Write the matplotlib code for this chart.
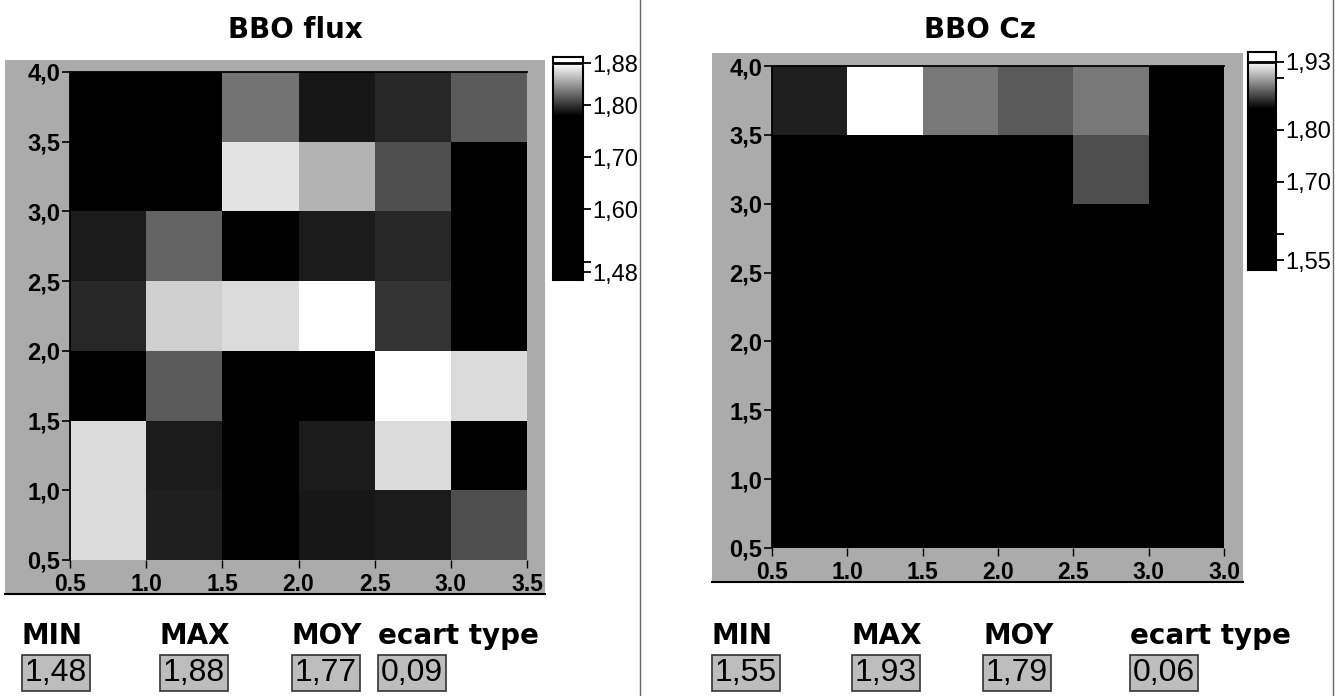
import numpy as np
import matplotlib
matplotlib.use("Agg")
import matplotlib.pyplot as plt
from matplotlib.colors import LinearSegmentedColormap, Normalize
from matplotlib.patches import Rectangle
from matplotlib.lines import Line2D

W, H = 1335, 696

# ---------------- data ----------------
x_edges = [0.5, 1.0, 1.5, 2.0, 2.5, 3.0, 3.5]
y_edges = [0.5, 1.0, 1.5, 2.0, 2.5, 3.0, 3.5, 4.0]
y_ticks = [0.5, 1.0, 1.5, 2.0, 2.5, 3.0, 3.5, 4.0]
y_ticklabels = ["0,5", "1,0", "1,5", "2,0", "2,5", "3,0", "3,5", "4,0"]
x_ticks = [0.5, 1.0, 1.5, 2.0, 2.5, 3.0, 3.5]
flux_xticklabels = ["0.5", "1.0", "1.5", "2.0", "2.5", "3.0", "3.5"]
cz_xticklabels = ["0.5", "1.0", "1.5", "2.0", "2.5", "3.0", "3.0"]

# rows from bottom (y=0.75) to top (y=3.75), columns x=0.75 .. 3.25
flux = [
    [1.865, 1.792, 1.640, 1.788, 1.790, 1.810],
    [1.865, 1.790, 1.680, 1.790, 1.865, 1.720],
    [1.650, 1.815, 1.480, 1.690, 1.880, 1.865],
    [1.795, 1.860, 1.865, 1.880, 1.800, 1.700],
    [1.790, 1.818, 1.720, 1.790, 1.795, 1.660],
    [1.640, 1.680, 1.868, 1.850, 1.810, 1.620],
    [1.700, 1.660, 1.825, 1.788, 1.795, 1.815],
]
cz = [
    [1.77, 1.76, 1.79, 1.80, 1.78, 1.77],
    [1.78, 1.77, 1.76, 1.78, 1.79, 1.76],
    [1.76, 1.78, 1.77, 1.76, 1.77, 1.78],
    [1.77, 1.76, 1.78, 1.77, 1.76, 1.77],
    [1.78, 1.77, 1.76, 1.78, 1.77, 1.55],
    [1.79, 1.78, 1.80, 1.79, 1.867, 1.77],
    [1.851, 1.93, 1.882, 1.872, 1.882, 1.78],
]

flux_range = (1.48, 1.88)
cz_range = (1.55, 1.93)
flux_cbar_ticks = [1.48, 1.60, 1.70, 1.80, 1.88]
flux_cbar_labels = ["1,48", "1,60", "1,70", "1,80", "1,88"]
flux_cbar_minor = [1.50]
cz_cbar_ticks = [1.55, 1.70, 1.80, 1.93]
cz_cbar_labels = ["1,55", "1,70", "1,80", "1,93"]
cz_cbar_minor = [1.60, 1.90]

stat_names = ["MIN", "MAX", "MOY", "ecart type"]
flux_stats = ["1,48", "1,88", "1,77", "0,09"]
cz_stats = ["1,55", "1,93", "1,79", "0,06"]

titles = ["BBO flux", "BBO Cz"]

# ---------------- styling ----------------
GREY = "#ababab"
BOXGREY = "#bdbdbd"
TICKFONT = ["Liberation Sans", "DejaVu Sans"]
NARROW = ["Liberation Sans Narrow", "Liberation Sans"]

fig = plt.figure(figsize=(W / 100, H / 100), dpi=100)
fig.patch.set_facecolor("white")


def frect(x0, y0, x1, y1):
    return [x0 / W, 1 - y1 / H, (x1 - x0) / W, (y1 - y0) / H]


def fx(x):
    return x / W


def fy(y):
    return 1 - y / H


def make_cmap(black_until, vmin, vmax):
    f0 = (black_until - vmin) / (vmax - vmin)
    return LinearSegmentedColormap.from_list(
        "bw", [(0.0, "black"), (f0, "black"), (1.0, "white")])


def panel(px, ax_px, cb_px, data, vrange, black_until, xlabels,
          cticks, clabels, cminor, lo, hi, title, title_x):
    # grey panel background
    x0, y0, x1, y1 = px
    fig.patches.append(Rectangle((fx(x0), fy(y1)), (x1 - x0) / W, (y1 - y0) / H,
                                 transform=fig.transFigure, facecolor=GREY,
                                 edgecolor="none", zorder=-1))
    fig.lines.append(Line2D([fx(x0), fx(x1)], [fy(y1), fy(y1)],
                            transform=fig.transFigure, color="black", lw=1.5))

    cmap = make_cmap(black_until, *vrange)
    norm = Normalize(vmin=vrange[0], vmax=vrange[1])
    ax = fig.add_axes(frect(*ax_px))
    ax.patch.set_visible(False)
    ax.pcolormesh(x_edges, y_edges, np.array(data), cmap=cmap, norm=norm,
                  shading="flat")
    ax.set_xlim(0.5, 3.5)
    ax.set_ylim(0.5, 4.0)
    ax.set_yticks(y_ticks)
    ax.set_yticklabels(y_ticklabels, fontsize=17, fontweight="bold",
                       family=TICKFONT)
    ax.set_xticks(x_ticks)
    ax.set_xticklabels(xlabels, fontsize=16.5, fontweight="bold",
                       family=TICKFONT)
    ax.tick_params(axis="y", direction="out", length=6, width=1.2, pad=1)
    ax.tick_params(axis="x", direction="out", length=6, width=1.0, pad=3.5)
    for s in ["right", "bottom"]:
        ax.spines[s].set_visible(False)
    ax.spines["left"].set_linewidth(1.3)
    ax.spines["top"].set_linewidth(1.3)

    # colour bar
    cax = fig.add_axes(frect(*cb_px))
    grad = np.linspace(lo, vrange[1], 400).reshape(-1, 1)
    cax.imshow(grad, extent=[0, 1, lo, vrange[1]], origin="lower",
               aspect="auto", cmap=cmap, norm=norm)
    cax.set_facecolor("white")
    cax.set_xlim(0, 1)
    cax.set_ylim(lo, hi)
    cax.axhline(vrange[1], color="black", lw=2)
    cax.set_xticks([])
    cax.yaxis.tick_right()
    cax.set_yticks(cticks)
    cax.set_yticklabels(clabels, fontsize=17, family=TICKFONT)
    cax.set_yticks(cminor, minor=True)
    cax.tick_params(axis="y", which="major", length=6, width=1.3, pad=0.5)
    cax.tick_params(axis="y", which="minor", length=6, width=1.3)
    for s in cax.spines.values():
        s.set_linewidth(1.5)

    fig.text(fx(title_x), fy(30), title, ha="center", va="center",
             fontsize=20, fontweight="bold")


panel((5, 60, 545, 594), (70, 72, 527, 560), (553, 57, 583, 280), flux,
      flux_range, 1.78, flux_xticklabels, flux_cbar_ticks, flux_cbar_labels,
      flux_cbar_minor, 1.465, 1.892, titles[0], 295)
panel((712, 53, 1243, 582), (772, 66, 1224, 548), (1248, 52, 1276, 270), cz,
      cz_range, 1.84, cz_xticklabels, cz_cbar_ticks, cz_cbar_labels,
      cz_cbar_minor, 1.531, 1.949, titles[1], 980)

# separators
fig.lines.append(Line2D([fx(640), fx(640)], [0, 1], transform=fig.transFigure,
                        color="#666666", lw=1))
fig.lines.append(Line2D([fx(1333), fx(1333)], [0, 1], transform=fig.transFigure,
                        color="#666666", lw=1))

# statistics
left_x = [22, 160, 292, 378]
right_x = [712, 852, 983, 1130]
for xs, vals in [(left_x, flux_stats), (right_x, cz_stats)]:
    for xpos, name, val in zip(xs, stat_names, vals):
        fig.text(fx(xpos), fy(636), name, ha="left", va="center",
                 fontsize=20, fontweight="bold")
        fig.text(fx(xpos + 3), fy(673), val, ha="left", va="center",
                 fontsize=23, family=NARROW,
                 bbox=dict(boxstyle="square,pad=0.1", facecolor=BOXGREY,
                           edgecolor="#333333", lw=1.2))

fig.savefig("out.png", dpi=100)
